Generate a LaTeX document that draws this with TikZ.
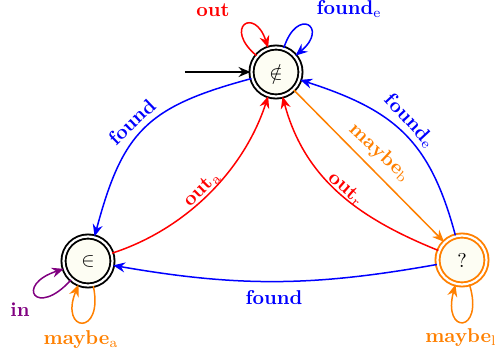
\documentclass[tikz,border=0pt]{standalone}
\usetikzlibrary{arrows.meta}
\definecolor{statefill}{RGB}{253,253,243}
\definecolor{myorange}{RGB}{255,128,0}
\definecolor{mypurple}{RGB}{128,0,128}
\begin{document}
\begin{tikzpicture}[x=0.5pt,y=0.5pt,
  state/.style={circle,draw=black,double=white,double distance=1.1pt,line width=0.95pt,
    fill=statefill,minimum size=24.5pt,inner sep=0pt},
  tr/.style={line width=0.75pt,-{Stealth[length=6pt,width=5pt,inset=2pt]}},
  lbl/.style={font=\bfseries,inner sep=1pt}]
\useasboundingbox (0,0) rectangle (495,355);
% states
\node[state] (t) at (276,283) {$\notin$};
\node[state] (l) at (88,94) {$\in$};
\node[state,draw=myorange] (r) at (462,95) {?};
\coordinate (init) at (185,283);
% initial
\draw[tr,black] (init) -- (t);
% self loops
\draw[tr,red] (t.140) .. controls +(140:22pt) and +(108:22pt) .. (t.108);
\draw[tr,blue] (t.72) .. controls +(72:22pt) and +(40:22pt) .. (t.40);
\draw[tr,mypurple] (l.228) .. controls +(228:26pt) and +(198:26pt) .. (l.198);
\draw[tr,myorange] (l.282) .. controls +(282:26pt) and +(248:26pt) .. (l.248);
\draw[tr,myorange] (r.287) .. controls +(287:26pt) and +(255:26pt) .. (r.255);
% transitions
\draw[tr,blue] (t) to[out=195,in=75,looseness=1.25] (l);
\draw[tr,red] (l) to[out=18,in=252,looseness=0.9] (t);
\draw[tr,myorange] (t) -- (r);
\draw[tr,red] (r) to[out=158,in=285,looseness=1] (t);
\draw[tr,blue] (r) to[out=105,in=-18,looseness=1.15] (t);
\draw[tr,blue] (r) to[bend left=10] (l);
% labels
\node[lbl,red] (lout) at (213,345) {out};
\node[lbl,blue] (lfe) at (349,346) {found$_\mathrm{e}$};
\node[lbl,mypurple] (lin) at (20,45) {in};
\node[lbl,myorange] (lma) at (81,15) {maybe$_\mathrm{a}$};
\node[lbl,myorange] (lml) at (461,17) {maybe$_\mathrm{l}$};
\node[lbl,blue] (lfb) at (274,57) {found};
\node[lbl,blue,rotate=44] (lft) at (132,233) {found};
\node[lbl,red,rotate=45] (loa) at (202,166) {out$_\mathrm{a}$};
\node[lbl,myorange,rotate=-43] (lmb) at (380,202) {maybe$_\mathrm{b}$};
\node[lbl,red,rotate=-41] (lor) at (346,166) {out$_\mathrm{r}$};
\node[lbl,blue,rotate=-47] (lfr) at (410,234) {found$_\mathrm{e}$};
\end{tikzpicture}
\end{document}
